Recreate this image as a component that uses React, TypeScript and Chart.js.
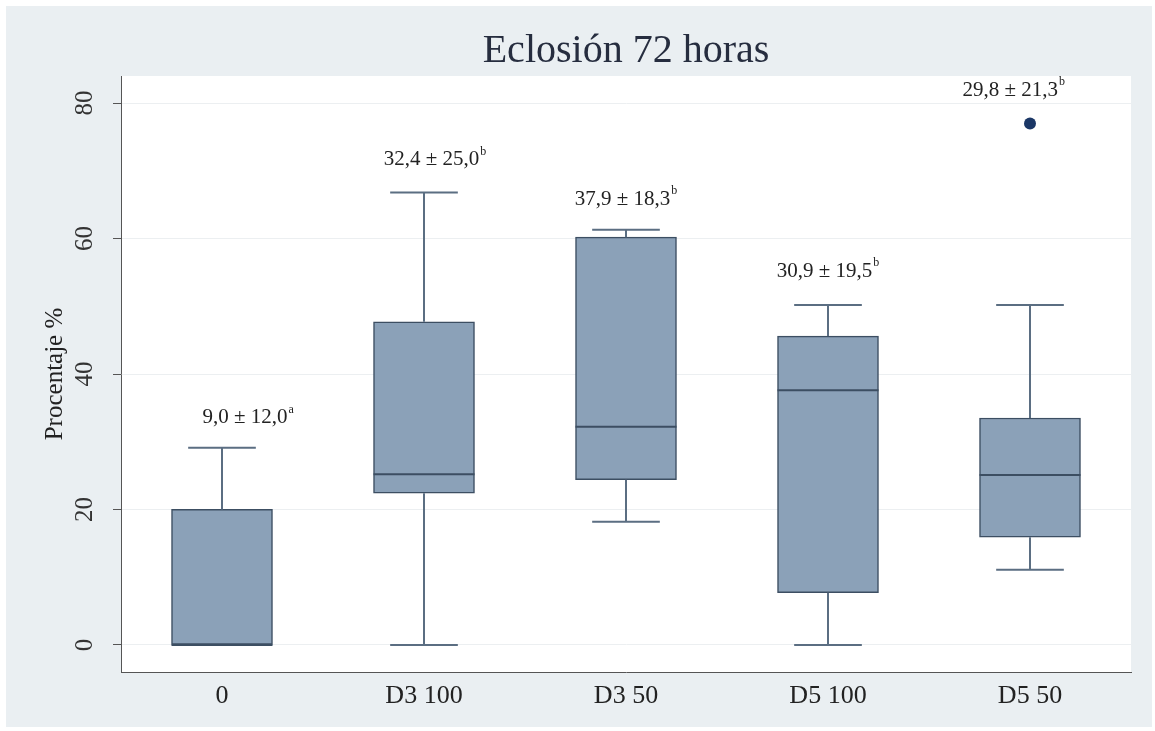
import React, { useEffect, useRef } from "react";
import { Chart, registerables } from "chart.js";

Chart.register(...registerables);

// ---- data ----
const categories = ["0", "D3 100", "D3 50", "D5 100", "D5 50"];
const whiskerLow = [0, 0, 18.2, 0, 11.1];
const q1 = [0, 22.4, 24.4, 7.7, 15.9];
const median = [0, 25.2, 32.2, 37.6, 25.1];
const q3 = [20, 47.7, 60.2, 45.6, 33.5];
const whiskerHigh = [29.1, 66.8, 61.3, 50.2, 50.2];
const outliers = [null, null, null, null, 77.0];
const annotationText = ["9,0 ± 12,0", "32,4 ± 25,0", "37,9 ± 18,3", "30,9 ± 19,5", "29,8 ± 21,3"];
const annotationSup = ["a", "b", "b", "b", "b"];
const annotationY = [33.6, 71.6, 65.8, 55.2, 81.9];
const annotationXShift = [0.13, 0.055, 0, 0, -0.08];
const yTicks = [0, 20, 40, 60, 80];

const FONT = '"Liberation Serif", "Times New Roman", serif';

const plotBgPlugin = {
  id: "plotBg",
  beforeDraw(chart: any) {
    const { ctx, chartArea } = chart;
    ctx.save();
    ctx.fillStyle = "#ffffff";
    ctx.fillRect(chartArea.left, chartArea.top, chartArea.right - chartArea.left, chartArea.bottom - chartArea.top);
    ctx.restore();
  },
};

const boxPlugin = {
  id: "boxWhiskers",
  afterDatasetsDraw(chart: any) {
    const { ctx } = chart;
    const x = chart.scales.x;
    const y = chart.scales.y;
    const meta = chart.getDatasetMeta(0);
    ctx.save();
    categories.forEach((_, i) => {
      const bar = meta.data[i];
      const cx = x.getPixelForValue(i);
      const w = bar.width;
      const capHalf = w * 0.335;
      ctx.strokeStyle = "#5b6e82";
      ctx.lineWidth = 2;
      ctx.beginPath();
      ctx.moveTo(cx, y.getPixelForValue(q3[i]));
      ctx.lineTo(cx, y.getPixelForValue(whiskerHigh[i]));
      ctx.moveTo(cx, y.getPixelForValue(q1[i]));
      ctx.lineTo(cx, y.getPixelForValue(whiskerLow[i]));
      ctx.moveTo(cx - capHalf, y.getPixelForValue(whiskerHigh[i]));
      ctx.lineTo(cx + capHalf, y.getPixelForValue(whiskerHigh[i]));
      ctx.moveTo(cx - capHalf, y.getPixelForValue(whiskerLow[i]));
      ctx.lineTo(cx + capHalf, y.getPixelForValue(whiskerLow[i]));
      ctx.stroke();
      ctx.strokeStyle = "#3c4e62";
      ctx.lineWidth = 2;
      ctx.beginPath();
      ctx.moveTo(cx - w / 2, y.getPixelForValue(median[i]));
      ctx.lineTo(cx + w / 2, y.getPixelForValue(median[i]));
      ctx.stroke();
    });
    ctx.restore();
  },
};

const annotationPlugin = {
  id: "meanLabels",
  afterDraw(chart: any) {
    const { ctx } = chart;
    const x = chart.scales.x;
    const y = chart.scales.y;
    ctx.save();
    ctx.fillStyle = "#222222";
    ctx.textBaseline = "middle";
    ctx.textAlign = "left";
    annotationText.forEach((t, i) => {
      const mainFont = `21px ${FONT}`;
      const supFont = `12px ${FONT}`;
      ctx.font = mainFont;
      const mw = ctx.measureText(t).width;
      ctx.font = supFont;
      const sw = ctx.measureText(annotationSup[i]).width;
      const total = mw + 1 + sw;
      const cx = x.getPixelForValue(i + annotationXShift[i]);
      const cy = y.getPixelForValue(annotationY[i]);
      const x0 = cx - total / 2;
      ctx.font = mainFont;
      ctx.fillText(t, x0, cy);
      ctx.font = supFont;
      ctx.fillText(annotationSup[i], x0 + mw + 1, cy - 8);
    });
    ctx.restore();
  },
};

export default function App() {
  const ref = useRef<HTMLCanvasElement | null>(null);

  useEffect(() => {
    if (!ref.current) return;
    const chart = new Chart(ref.current, {
      type: "bar",
      data: {
        labels: categories,
        datasets: [
          {
            type: "bar",
            data: q1.map((v, i) => [v, q3[i]]) as any,
            backgroundColor: "#8ba1b8",
            borderColor: "#3c4e62",
            borderWidth: 1.5,
            borderSkipped: false,
            barThickness: 101,
          } as any,
          {
            type: "line",
            data: outliers as any,
            showLine: false,
            pointRadius: 6,
            pointBackgroundColor: "#1b3766",
            pointBorderColor: "#1b3766",
            pointBorderWidth: 0,
          } as any,
        ],
      },
      options: {
        responsive: false,
        animation: false,
        layout: { padding: { left: 0, right: 21, top: 0, bottom: 0 } },
        plugins: {
          legend: { display: false },
          tooltip: { enabled: false },
          title: {
            display: true,
            text: "Eclosión 72 horas",
            fullSize: false,
            color: "#262d3f",
            font: { family: FONT, size: 40, weight: "normal" as any, lineHeight: 1.2 },
            padding: { top: 21.3, bottom: 0.7 },
          },
        },
        scales: {
          x: {
            type: "category",
            offset: true,
            afterFit: (s: any) => {
              s.height = 55;
            },
            grid: { display: false, drawTicks: false },
            border: { display: true, color: "#555555", width: 1 },
            ticks: {
              font: { family: FONT, size: 26 },
              color: "#222222",
              padding: 9,
              maxRotation: 0,
              autoSkip: false,
            },
          },
          y: {
            type: "linear",
            min: -4,
            max: 84,
            afterBuildTicks: (s: any) => {
              s.ticks = yTicks.map((v) => ({ value: v }));
            },
            afterFit: (s: any) => {
              s.width = 115;
            },
            grid: { color: "#eceff1", lineWidth: 1, tickColor: "#555555", tickLength: 8, drawTicks: true },
            border: { display: true, color: "#555555", width: 1 },
            ticks: {
              font: { family: FONT, size: 25 },
              color: "#333333",
              minRotation: 90,
              maxRotation: 90,
              crossAlign: "center",
              padding: 15,
            },
            title: {
              display: true,
              text: "Procentaje %",
              color: "#222222",
              font: { family: FONT, size: 25 },
              padding: { top: 34, bottom: 0 },
            },
          },
        },
      } as any,
      plugins: [plotBgPlugin, boxPlugin, annotationPlugin],
    });
    return () => chart.destroy();
  }, []);

  return (
    <div style={{ position: "fixed", left: 0, top: 0, width: 1155, height: 731, background: "#ffffff" }}>
      <div style={{ position: "absolute", left: 6, top: 6, width: 1146, height: 721, background: "#eaeff2" }}>
        <canvas ref={ref} width={1146} height={721} style={{ width: 1146, height: 721, display: "block" }} />
      </div>
    </div>
  );
}
